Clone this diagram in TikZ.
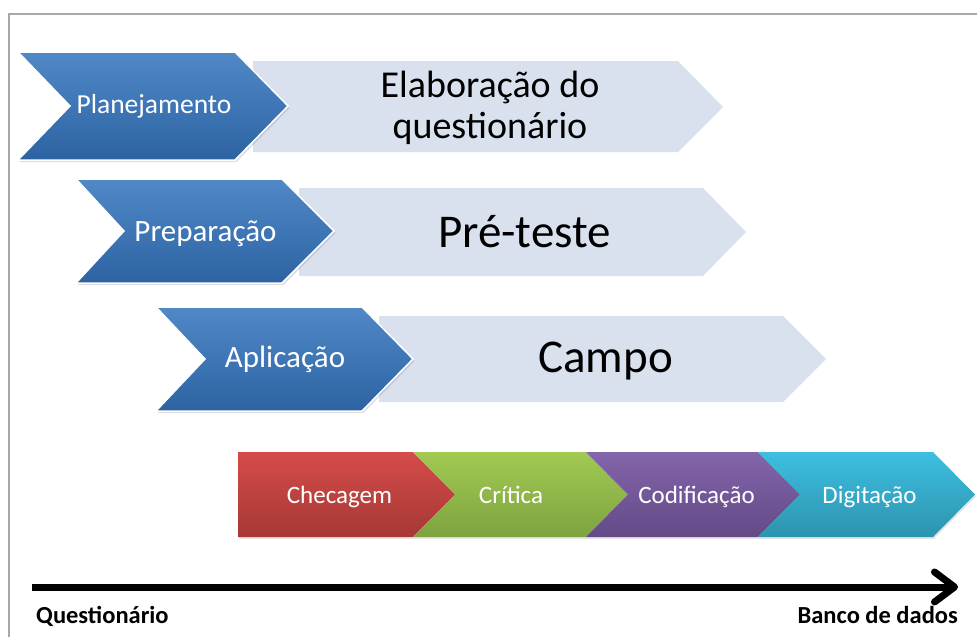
\documentclass[tikz,border=0pt]{standalone}
\usepackage{fontspec}
\setmainfont{Carlito}
\usetikzlibrary{arrows.meta,shadows}
\definecolor{lightfill}{RGB}{218,225,238}
\definecolor{blueT}{RGB}{80,136,200}
\definecolor{blueB}{RGB}{45,99,161}
\definecolor{redT}{RGB}{212,76,73}
\definecolor{redB}{RGB}{166,56,54}
\definecolor{greenT}{RGB}{161,202,82}
\definecolor{greenB}{RGB}{126,163,64}
\definecolor{purpT}{RGB}{131,101,171}
\definecolor{purpB}{RGB}{99,74,134}
\definecolor{cyanT}{RGB}{62,190,224}
\definecolor{cyanB}{RGB}{44,148,174}
\definecolor{framegray}{RGB}{168,168,168}
\tikzset{
  lightshape/.style={fill=lightfill},
  blueshape/.style={top color=blueT, bottom color=blueB, draw=white, line width=1.5pt,
    drop shadow={shadow xshift=1.5pt, shadow yshift=-2pt, opacity=0.25}},
  barshape/.style={top color=#1T, bottom color=#1B,
    drop shadow={shadow xshift=1pt, shadow yshift=-2pt, opacity=0.2}},
  whitetxt/.style={text=white, inner sep=0pt},
  darktxt/.style={text=black, inner sep=0pt},
  axislabel/.style={text=black, inner sep=0pt, font=\bfseries\fontsize{24.5}{28}\selectfont},
  axisline/.style={line width=7pt, -{Straight Barb[round, length=20pt, width=30pt]}}
}
\begin{document}
\begin{tikzpicture}[x=1pt, y=-1pt]
\useasboundingbox (0,0) rectangle (977,637);
% frame
\draw[framegray, line width=1.2pt] (9,640) -- (9,14) -- (980,14);

% light chevrons
\path[lightshape] (253,61) -- (678,61) -- (723,107) -- (678,152) -- (253,152) -- cycle;
\path[lightshape] (299,188) -- (703,188) -- (746,232) -- (703,276) -- (299,276) -- cycle;
\path[lightshape] (379,316) -- (783,316) -- (826,359) -- (783,402) -- (379,402) -- cycle;

% blue chevrons
\path[blueshape] (18,52) -- (235,52) -- (288,106) -- (235,160) -- (18,160) -- (70,106) -- cycle;
\path[blueshape] (76,179) -- (282,179) -- (334,231) -- (282,283) -- (76,283) -- (124,231) -- cycle;
\path[blueshape] (156,307) -- (362,307) -- (413,359) -- (362,411) -- (156,411) -- (205,359) -- cycle;

% process bar
\path[barshape=red] (238,452) -- (413,452) -- (455,494.5) -- (413,537) -- (238,537) -- cycle;
\path[barshape=green] (413,452) -- (586,452) -- (628,494.5) -- (586,537) -- (413,537) -- (455,494.5) -- cycle;
\path[barshape=purp] (586,452) -- (758,452) -- (800,494.5) -- (758,537) -- (586,537) -- (628,494.5) -- cycle;
\path[barshape=cyan] (758,452) -- (933,452) -- (975,494.5) -- (933,537) -- (758,537) -- (800,494.5) -- cycle;

% texts
\node[whitetxt, anchor=base, font=\fontsize{27.5}{32}\selectfont] (plan) at (154,113) {Planejamento};
\node[whitetxt, anchor=base, font=\fontsize{31}{36}\selectfont] (prep) at (205.5,241) {Preparação};
\node[whitetxt, anchor=base, font=\fontsize{31}{36}\selectfont] (apl) at (285,367) {Aplicação};

\node[darktxt, anchor=base, align=center, font=\fontsize{38}{41}\selectfont] (elab) at (490,138) {Elaboração do\\questionário};
\node[darktxt, anchor=base, font=\fontsize{47}{54}\selectfont] (pre) at (524.5,247) {Pré-teste};
\node[darktxt, anchor=base, font=\fontsize{47}{54}\selectfont] (campo) at (605.5,372) {Campo};

\node[whitetxt, anchor=base, font=\fontsize{25}{29}\selectfont] (chec) at (339.5,503) {Checagem};
\node[whitetxt, anchor=base, font=\fontsize{25}{29}\selectfont] (crit) at (511,503) {Crítica};
\node[whitetxt, anchor=base, font=\fontsize{25}{29}\selectfont] (codi) at (696.5,503) {Codificação};
\node[whitetxt, anchor=base, font=\fontsize{25}{29}\selectfont] (digi) at (869.5,503) {Digitação};

% axis
\coordinate (axs) at (32,587);
\coordinate (axe) at (958,587);
\draw[axisline] (axs) -- (axe);
\node[axislabel, anchor=base west] (qst) at (36,623) {Questionário};
\node[axislabel, anchor=base east] (bdd) at (958,623) {Banco de dados};
\end{tikzpicture}
\end{document}
